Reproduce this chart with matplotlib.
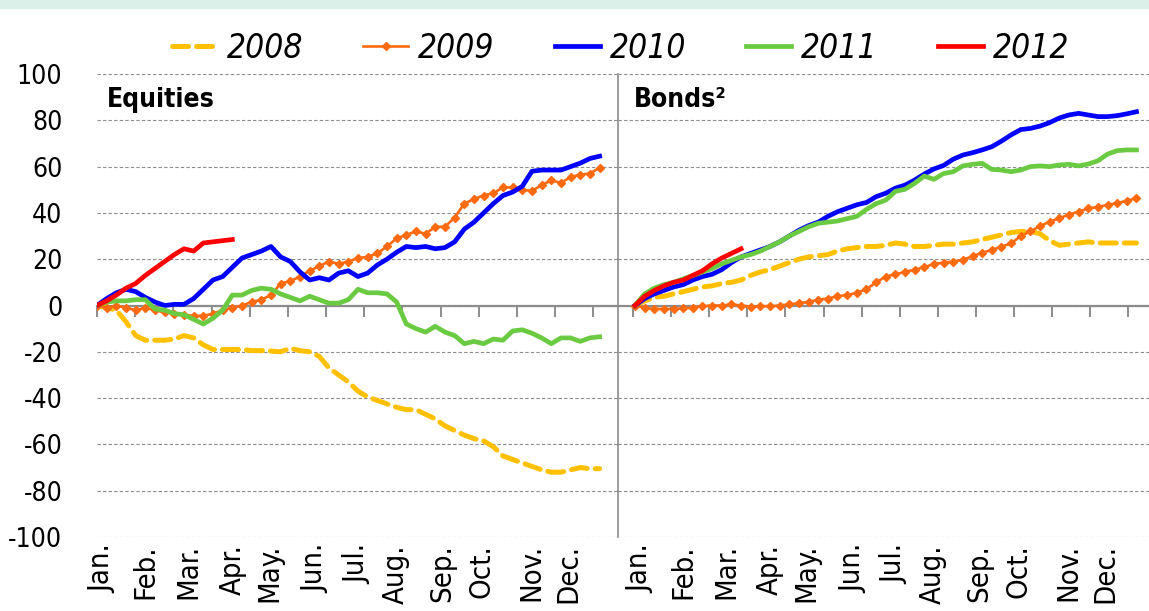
import numpy as np
import matplotlib
matplotlib.use("Agg")
import matplotlib.pyplot as plt
from matplotlib import font_manager
from matplotlib.patches import Rectangle
import matplotlib.transforms as mtransforms

# weekly cumulative flows, one value per week from the first week of January
eq_2008 = [0, -1, -2, -7, -13, -15, -15, -15, -14.5, -13, -14, -17, -19, -19, -19, -19,
           -19.5, -19.5, -19.7, -20, -18.5, -19.5, -20, -22, -27, -30, -33, -37, -39.5,
           -41, -42.5, -44, -45, -45, -47, -49, -52, -54, -56, -57.5, -58.5, -61, -65,
           -66.5, -68, -69.5, -71, -72, -72, -71, -70, -70.5, -70.5]
eq_2009 = [0, -1, 0, -1, -2, -1, -2, -3, -3.5, -4, -4.5, -4.5, -3.5, -2, -1, 0, 1.5, 2.5,
           4.5, 9.5, 10.5, 12.5, 15, 17, 19, 18, 19, 20.5, 21, 22.5, 25.5, 29, 30.5, 32,
           31, 34, 34, 38, 44, 46, 47.5, 48.5, 51, 51, 50, 49.5, 52, 54, 53, 55.5, 56.5,
           57, 59.5]
eq_2010 = [0, 3, 5.5, 7, 6, 3.5, 1.5, 0, 0.5, 0.5, 3, 7, 11, 12.5, 16.5, 20.5, 22, 23.5,
           25.5, 21, 19, 14.5, 11, 12, 11, 14, 15, 12.5, 14, 17.5, 20, 23, 25.5, 25, 25.5,
           24.5, 25, 27.5, 33, 36, 40, 44, 47.5, 49, 51.5, 58, 58.5, 58.5, 58.5, 60, 61.5,
           63.5, 64.5]
eq_2011 = [0, 1.5, 2, 2, 2.5, 2.5, -1.5, -2, -3.5, -4, -6, -8, -5.5, -2, 4.5, 4.5, 6.5,
           7.5, 7, 5, 3.5, 2, 4, 2.5, 1, 1, 2.5, 7, 5.5, 5.5, 5, 1.5, -8, -10, -11.5, -9,
           -11.5, -13, -16.5, -15.5, -16.5, -14.5, -15, -11, -10.5, -12, -14, -16.5, -14,
           -14, -15.5, -14, -13.5]
eq_2012 = [0, 2, 4.5, 7.5, 9.5, 13, 16, 19, 22, 24.5, 23.5, 27, 27.5, 28, 28.5]

bd_2008 = [0, 2, 3.5, 4, 5, 6, 7, 8, 8.5, 9.5, 10, 11, 13, 14.5, 15.5, 17, 18.5, 20, 21,
           21.5, 22, 23.5, 24.5, 25, 25.5, 25.5, 26, 27, 26.5, 25.5, 25.5, 26, 26.5, 26.5,
           27, 27.5, 28.5, 29.5, 30.5, 31.5, 32, 32, 31, 28, 26, 26.5, 27, 27.5, 27, 27,
           27, 27, 27]
bd_2009 = [0, -1, -1.5, -1.5, -1.5, -1.2, -1, -0.3, 0, 0, 0.5, 0, -0.5, -0.3, -0.3, 0,
           0.5, 1, 1.5, 2.5, 3, 4, 4.5, 5.5, 7, 10, 12.5, 13.5, 14.5, 15.5, 16.5, 18, 18.5,
           19, 19.7, 21.3, 22.8, 24, 25.4, 26.8, 30, 32, 34.3, 36.2, 37.7, 39.3, 40.5, 42,
           42.5, 43.5, 44.2, 45.3, 46.3]
bd_2010 = [0, 3, 5, 6.5, 8, 9, 11, 12.5, 13.5, 15.5, 18.5, 21, 22.5, 24, 25.5, 27.5, 30,
           32.5, 34.5, 36, 38.5, 40.5, 42, 43.5, 44.5, 47, 48.5, 50.7, 52, 54.2, 56.8, 59,
           60.5, 63.2, 65, 66, 67.2, 68.6, 71, 73.7, 76, 76.5, 77.5, 79, 81, 82.3, 83,
           82.3, 81.6, 81.6, 82, 82.8, 83.7]
bd_2011 = [0, 5, 7.5, 9, 10, 11.5, 13, 14.5, 16, 18, 19.5, 21, 22, 23.5, 25.5, 27.5, 30,
           32, 34, 35.5, 36, 36.5, 37.5, 38.5, 41.5, 44, 45.5, 49.3, 50.2, 52.8, 55.9,
           54.5, 57, 57.8, 60.3, 61, 61.4, 58.8, 58.5, 57.8, 58.5, 60, 60.3, 60, 60.7, 61,
           60.3, 61.1, 62.5, 65.4, 66.9, 67.2, 67.2]
bd_2012 = [0, 4, 6.5, 8.5, 10, 11, 13, 15, 18, 20.5, 22.5, 24.5]

years = ["2008", "2009", "2010", "2011", "2012"]
months = ["Jan.", "Feb.", "Mar.", "Apr.", "May.", "Jun.", "Jul.", "Aug.", "Sep.",
          "Oct.", "Nov.", "Dec."]
month_pos = [0.1, 4.5, 9.0, 13.5, 17.3, 22.1, 26.4, 30.4, 35.2, 39.3, 44.4, 48.3]
y_ticks = [-100, -80, -60, -40, -20, 0, 20, 40, 60, 80, 100]

# look for a narrow/condensed face, the original uses a condensed sans
cond = [f for f in font_manager.fontManager.ttflist
        if ("Narrow" in f.fname or "Condensed" in f.fname or f.stretch == "condensed")]
if cond:
    plt.rcParams["font.family"] = [cond[0].name, "DejaVu Sans"]
    plt.rcParams["font.stretch"] = "condensed"
    scale = 1.0
else:
    plt.rcParams["font.family"] = ["Liberation Sans", "DejaVu Sans"]
    scale = 0.82
plt.rcParams["axes.unicode_minus"] = False

styles = {
    "2008": dict(color="#FFC000", lw=3.6, ls=(0, (3.2, 1.6)), dash_capstyle="round"),
    "2009": dict(color="#FF6A0E", lw=1.9, marker="D", markersize=4.2),
    "2010": dict(color="#0000FF", lw=3.4),
    "2011": dict(color="#6ACB42", lw=3.4),
    "2012": dict(color="#FF0000", lw=3.4),
}

W, H = 1149, 611
fig = plt.figure(figsize=(W / 100, H / 100), dpi=100)
fig.patches.append(Rectangle((0, 1 - 8 / H), 1, 8 / H, transform=fig.transFigure,
                             color="#DAF0E8", zorder=0))

bottom, top = 1 - 537 / H, 1 - 74 / H
ax1 = fig.add_axes([97 / W, bottom, (618 - 97) / W, top - bottom])
ax2 = fig.add_axes([618 / W, bottom, (W - 618) / W, top - bottom])

panels = [
    (ax1, [eq_2008, eq_2009, eq_2010, eq_2011, eq_2012], (0, 53.9), "Equities", 0.019),
    (ax2, [bd_2008, bd_2009, bd_2010, bd_2011, bd_2012], (-1.76, 53.3), "Bonds²", 0.030),
]

tick_step = 3.95
for ax, series, xlim, title, tx in panels:
    for yr, vals in zip(years, series):
        ax.plot(np.arange(len(vals)), vals, label=yr, zorder=3, **styles[yr])
    ax.set_xlim(*xlim)
    ax.set_ylim(-100, 100)
    ax.set_yticks(y_ticks)
    ax.grid(axis="y", ls=(0, (3, 2)), color="#8C8C8C", lw=0.8)
    ax.set_axisbelow(True)
    for s in ["top", "right", "left"]:
        ax.spines[s].set_visible(False)
    ax.spines["bottom"].set_position(("data", 0))
    ax.spines["bottom"].set_color("#8C8C8C")
    ax.spines["bottom"].set_linewidth(1.6)
    ax.spines["bottom"].set_zorder(2)
    ax.set_xticks(np.arange(0, xlim[1], tick_step) + (0 if ax is ax1 else -0.2))
    ax.tick_params(axis="x", direction="out", length=8, width=1.4, color="#8C8C8C",
                   labelbottom=False)
    trans = mtransforms.blended_transform_factory(ax.transData, ax.transAxes)
    for m, p in zip(months, month_pos):
        ax.text(p + 0.5, -0.015, m, transform=trans, rotation=90, ha="center", va="top",
                fontsize=21 * scale)
    ax.text(tx, 0.944, title, transform=ax.transAxes, fontsize=19 * scale,
            fontweight="bold", va="center", ha="left")

ax1.tick_params(axis="y", length=0, pad=25, labelsize=19 * scale)
ax2.tick_params(axis="y", length=0, labelleft=False)
ax2.spines["left"].set_visible(True)
ax2.spines["left"].set_color("#8C8C8C")
ax2.spines["left"].set_linewidth(1.2)

handles, labels = ax1.get_legend_handles_labels()
leg = fig.legend(handles, labels, loc="center", bbox_to_anchor=(0.54, 1 - 48 / H),
                 ncol=5, frameon=False, handlelength=1.35, columnspacing=1.8,
                 handletextpad=0.3, prop=dict(size=24 * scale, style="italic"))

fig.savefig("out.png", dpi=100)
